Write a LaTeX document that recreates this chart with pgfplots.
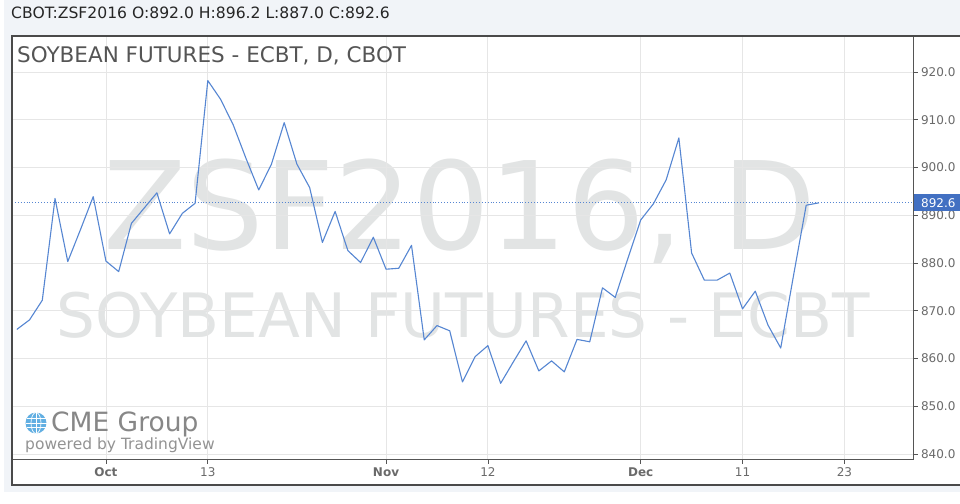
\documentclass[border=0pt]{standalone}
\usepackage{pgfplots}
\pgfplotsset{compat=1.18}
\usepackage{fontspec}
\setmainfont{DejaVu Sans}
\definecolor{bgc}{HTML}{F1F4F8}
\definecolor{framec}{HTML}{4A4A4A}
\definecolor{axc}{HTML}{555555}
\definecolor{gridc}{HTML}{E6E6E6}
\definecolor{labc}{HTML}{6A6A6A}
\definecolor{wmc}{HTML}{E2E4E4}
\definecolor{linec}{HTML}{5686D2}
\definecolor{pricec}{HTML}{4270C2}
\definecolor{globec}{HTML}{62AFE2}
\definecolor{cmec}{HTML}{878787}
\pgfplotstableread{
i v
-7 866.1
-6 868.1
-5 872.2
-4 893.5
-3 880.3
-2 887.0
-1 893.9
0 880.4
1 878.2
2 888.3
3 891.5
4 894.7
5 886.1
6 890.4
7 892.5
8 918.2
9 914.3
10 908.9
11 901.9
12 895.3
13 900.7
14 909.4
15 900.7
16 895.8
17 884.3
18 890.8
19 882.6
20 880.1
21 885.4
22 878.7
23 878.9
24 883.7
25 863.9
26 866.9
27 865.8
28 855.1
29 860.4
30 862.7
31 854.8
32 859.3
33 863.7
34 857.4
35 859.5
36 857.2
37 864.0
38 863.5
39 874.8
40 872.8
41 881.0
42 889.0
43 892.4
44 897.4
45 906.2
46 882.1
47 876.4
48 876.4
49 877.9
50 870.4
51 874.1
52 867.0
53 862.2
54 877.3
55 892.1
56 892.6
}\prices
\begin{document}
\begin{tikzpicture}[x=1pt,y=1pt]
\path[use as bounding box] (0,0) rectangle (960,503);
\fill[white] (0,0) rectangle (960,503);
\fill[bgc] (4,11) rectangle (960,503);
\fill[white] (12,18) rectangle (960,467);
% watermark
\node[anchor=base, inner sep=0, text=wmc, font=\fontsize{122}{130}\selectfont] at (460,253.5) {ZSF2016, D};
\node[anchor=base, inner sep=0, text=wmc, font=\fontsize{61.2}{64}\selectfont] at (463,165) {SOYBEAN FUTURES - ECBT};
\begin{axis}[
  at={(12pt,43.5pt)}, anchor=south west, scale only axis,
  width=901.5pt, height=423.5pt,
  xmin=-7.38, xmax=63.43, ymin=838.85, ymax=927.54,
  axis x line*=bottom, axis y line*=right,
  axis line style={draw=axc, line width=1pt, -},
  xtick={0,8,22,30,42,50,58},
  xticklabels={\textbf{Oct},13,\textbf{Nov},12,\textbf{Dec},11,23},
  ytick={840,850,860,870,880,890,900,910,920},
  /pgf/number format/assume math mode=true,
  /pgf/number format/fixed, /pgf/number format/fixed zerofill,
  /pgf/number format/precision=1, /pgf/number format/1000 sep={},
  grid=major, major grid style={draw=gridc, line width=0.9pt},
  tick align=outside, major tick length=4pt,
  tick style={draw=axc, line width=0.8pt},
  ticklabel style={font=\fontsize{12}{14}\selectfont, text=labc},
  xticklabel style={yshift=-1pt},
  clip=true,
]
\addplot[linec, line width=0.9pt, dotted] coordinates {(-7.38,892.6) (63.43,892.6)};
\addplot[linec, line width=1.1pt, mark=none, line join=round] table[x=i, y=v] {\prices};
\end{axis}
\fill[white] (914.5,18.6) rectangle (960,43);
\draw[framec, line width=1.3pt] (961,467) -- (12,467) -- (12,18) -- (961,18);
% price box
\fill[pricec] (913.5,291.5) rectangle (961,308.8);
\node[anchor=west, inner sep=0, text=white, font=\fontsize{12}{14}\selectfont] at (921,300.2) {892.6};
% header and title
\node[anchor=base west, inner sep=0, text=black!85, font=\fontsize{15.6}{17}\selectfont] at (11,484) {CBOT:ZSF2016 O:892.0 H:896.2 L:887.0 C:892.6};
\node[anchor=base west, inner sep=0, text=axc, font=\fontsize{21.5}{24}\selectfont] at (17,440) {SOYBEAN FUTURES - ECBT, D, CBOT};
% logo
\begin{scope}[shift={(36,80)}]
\fill[globec] (0,0) circle (10.5);
\draw[white, line width=0.8] (0,-10.5) -- (0,10.5);
\draw[white, line width=0.8] (-10.5,0) -- (10.5,0);
\draw[white, line width=0.7] (0,0) ellipse (5 and 10.5);
\draw[white, line width=0.7] (-9.5,4.5) -- (9.5,4.5);
\draw[white, line width=0.7] (-9.5,-4.5) -- (9.5,-4.5);
\end{scope}
\node[anchor=base west, inner sep=0, text=cmec, font=\fontsize{26.5}{28}\selectfont] at (51,71.5) {CME Group};
\node[anchor=base west, inner sep=0, text=cmec!90, font=\fontsize{15.5}{18}\selectfont] at (25,53) {powered by TradingView};
\end{tikzpicture}
\end{document}
